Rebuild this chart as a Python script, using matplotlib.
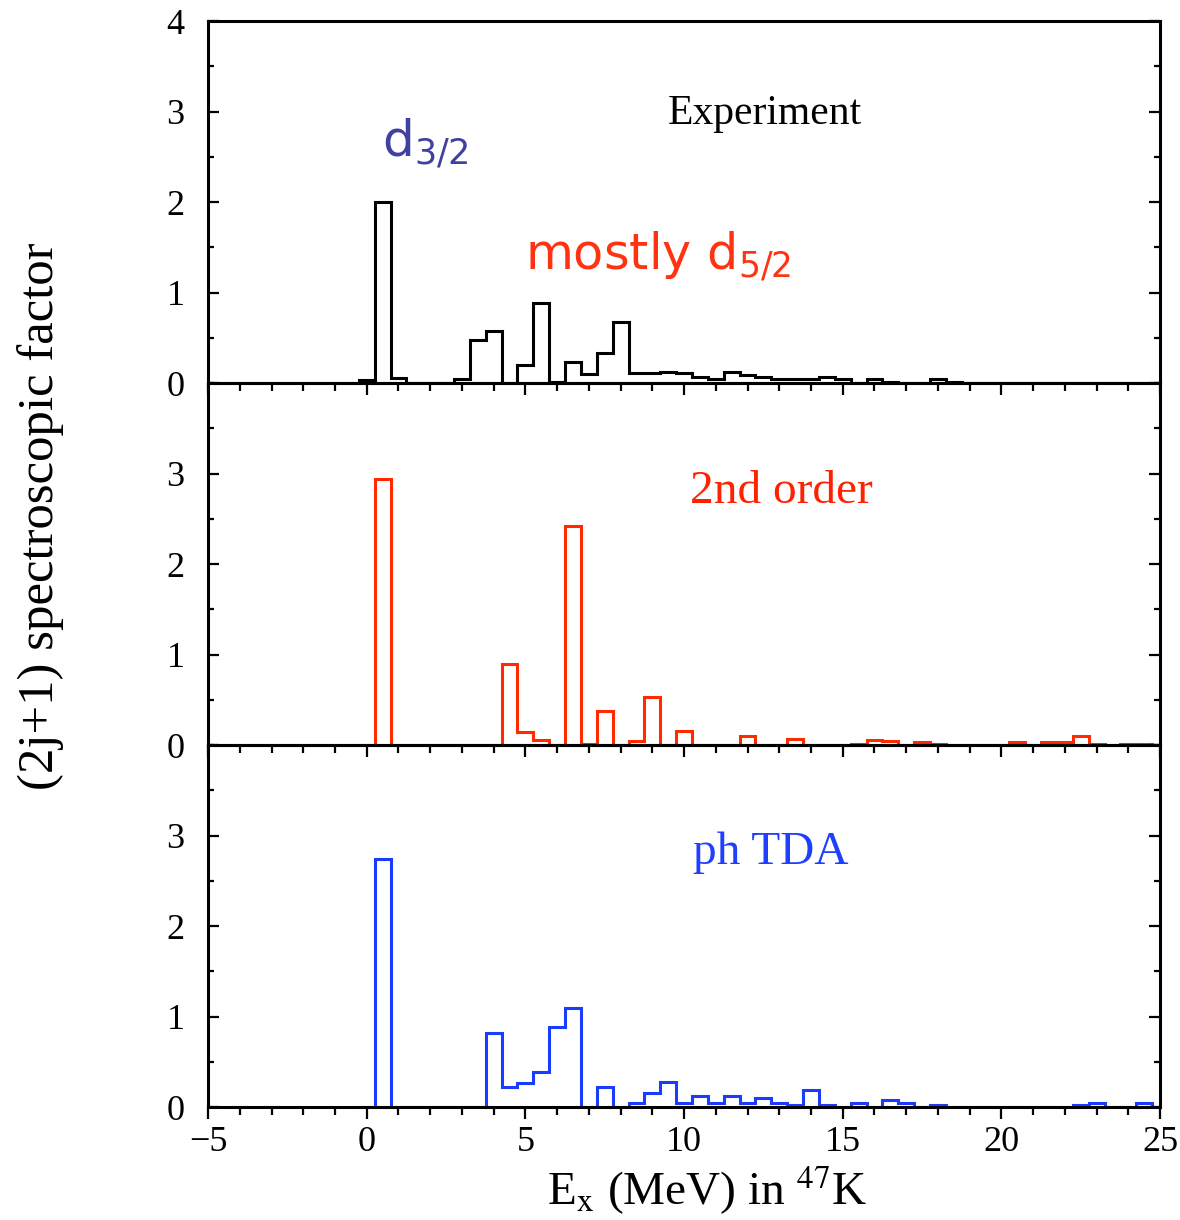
import numpy as np
import matplotlib
matplotlib.use("Agg")
import matplotlib.pyplot as plt
from matplotlib.ticker import MultipleLocator

plt.rcParams['font.family'] = ['Liberation Serif', 'DejaVu Serif']
plt.rcParams['mathtext.fontset'] = 'stix'

# bins are 0.5 MeV wide, centred on multiples of 0.5
edges = np.arange(-0.25, 25.0, 0.5)

# experiment (black)
exp_e = [0.0, 0.5, 1.0, 3.0, 3.5, 4.0, 5.0, 5.5, 6.0, 6.5, 7.0, 7.5, 8.0, 8.5, 9.0,
         9.5, 10.0, 10.5, 11.0, 11.5, 12.0, 12.5, 13.0, 13.5, 14.0, 14.5, 15.0,
         16.0, 16.5, 18.0, 18.5]
exp_s = [0.03, 2.0, 0.06, 0.05, 0.48, 0.58, 0.2, 0.88, 0.01, 0.23, 0.1, 0.33, 0.68, 0.11, 0.11,
         0.12, 0.11, 0.07, 0.05, 0.12, 0.09, 0.07, 0.04, 0.04, 0.04, 0.07, 0.05,
         0.04, 0.01, 0.04, 0.01]

# 2nd order (red)
sec_e = [0.5, 4.5, 5.0, 5.5, 6.5, 7.0, 7.5, 8.5, 9.0, 10.0, 12.0, 13.5, 15.5, 16.0,
         16.5, 17.5, 18.0, 20.5, 21.5, 22.0, 22.5, 23.0, 24.0, 24.5]
sec_s = [2.94, 0.9, 0.14, 0.06, 2.42, 0.01, 0.38, 0.04, 0.53, 0.16, 0.1, 0.07, 0.01, 0.06,
         0.04, 0.03, 0.01, 0.03, 0.03, 0.03, 0.1, 0.01, 0.01, 0.01]

# ph TDA (blue)
tda_e = [0.5, 4.0, 4.5, 5.0, 5.5, 6.0, 6.5, 7.5, 8.5, 9.0, 9.5, 10.0, 10.5, 11.0, 11.5,
         12.0, 12.5, 13.0, 13.5, 14.0, 14.5, 15.5, 16.5, 17.0, 18.0, 22.5, 23.0, 24.5]
tda_s = [2.74, 0.82, 0.22, 0.26, 0.39, 0.88, 1.09, 0.22, 0.05, 0.16, 0.28, 0.04, 0.12, 0.04, 0.12,
         0.04, 0.1, 0.04, 0.02, 0.19, 0.02, 0.04, 0.08, 0.04, 0.02, 0.02, 0.04, 0.04]

fig = plt.figure(figsize=(11.8, 12.2), dpi=100)
left, width, h = 0.1763, 0.8068, 0.2967
bottoms = [0.0926 + 2 * h, 0.0926 + h, 0.0926]
series = [(exp_e, exp_s, 'black'), (sec_e, sec_s, '#ff2a00'), (tda_e, tda_s, '#1a3cff')]

axes = []
for i, (e, s, col) in enumerate(series):
    ax = fig.add_axes([left, bottoms[i], width, h])
    ax.patch.set_visible(False)
    vals, _ = np.histogram(e, bins=edges, weights=s)
    ax.stairs(vals, edges, color=col, lw=2.2, zorder=1)
    ax.set_xlim(-5, 25)
    ax.set_ylim(0, 4)
    ax.xaxis.set_major_locator(MultipleLocator(5))
    ax.xaxis.set_minor_locator(MultipleLocator(1))
    if i == 0:
        ax.set_yticks([0, 1, 2, 3, 4])
    else:
        ax.set_yticks([0, 1, 2, 3])
    ax.yaxis.set_minor_locator(MultipleLocator(0.5))
    ax.tick_params(axis='x', which='both', direction='out', width=1.6, labelsize=26, pad=5)
    ax.tick_params(axis='x', which='major', length=8.6)
    ax.tick_params(axis='x', which='minor', length=5.8)
    ax.tick_params(axis='y', which='both', direction='in', left=True, right=True,
                   width=1.6, labelsize=26, pad=17)
    ax.tick_params(axis='y', which='major', length=8)
    ax.tick_params(axis='y', which='minor', length=4.3)
    if i < 2:
        ax.tick_params(axis='x', labelbottom=False)
    for sp in ax.spines.values():
        sp.set_linewidth(2.2)
        sp.set_zorder(3)
    axes.append(ax)

ax1, ax2, ax3 = axes
ax1.text(9.5, 2.86, 'Experiment', fontsize=30, color='black')
ax1.text(0.48, 2.51, r'd$_{3/2}$', fontsize=36, color='#4040a0',
         family='DejaVu Sans', math_fontfamily='dejavusans')
ax1.text(4.99, 1.26, r'mostly d$_{5/2}$', fontsize=35.5, color='#ff3311',
         family='DejaVu Sans', math_fontfamily='dejavusans')
ax2.text(10.19, 2.68, '2nd order', fontsize=34, color='#ff2200')
ax3.text(10.28, 2.69, 'ph TDA', fontsize=34, color='#1f3fff')

fig.text(0.034, 0.577, '(2j+1) spectroscopic factor', rotation=90, fontsize=36.5,
         ha='center', va='center')
fig.text(0.599, 0.0246, r'E$_\mathrm{x}$ (MeV) in $^{47}$K', fontsize=34,
         ha='center', va='center')

fig.savefig('out.png', dpi=100)
